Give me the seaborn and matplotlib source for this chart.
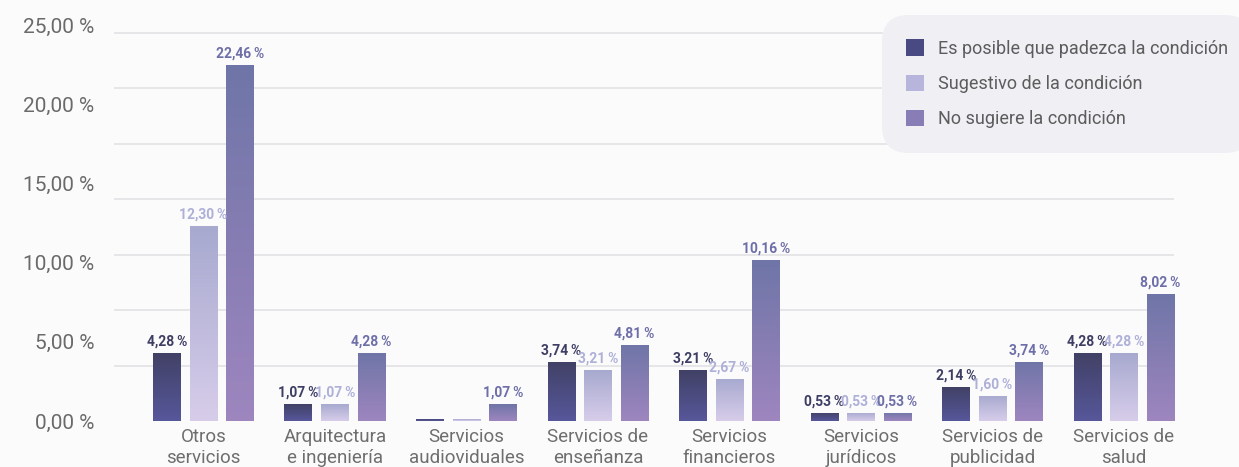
import matplotlib.pyplot as plt
import numpy as np
import pandas as pd
import seaborn as sns
from matplotlib.colors import LinearSegmentedColormap
from matplotlib.patches import Patch

# Datos
categorias = ["Otros\nservicios", "Arquitectura\ne ingeniería", "Servicios\naudioviduales",
              "Servicios de\nenseñanza", "Servicios\nfinancieros", "Servicios\njurídicos",
              "Servicios de\npublicidad", "Servicios de\nsalud"]
series = ["Es posible que padezca la condición", "Sugestivo de la condición", "No sugiere la condición"]
posible = [4.28, 1.07, 0.13, 3.74, 3.21, 0.53, 2.14, 4.28]
sugestivo = [12.30, 1.07, 0.10, 3.21, 2.67, 0.53, 1.60, 4.28]
no_sugiere = [22.46, 4.28, 1.07, 4.81, 10.16, 0.53, 3.74, 8.02]
# barras casi nulas que no llevan rótulo (serie, categoría)
sin_etiqueta = [(0, "Servicios\naudioviduales"), (1, "Servicios\naudioviduales")]

y_ticks = [0, 5, 10, 15, 20, 25]
y_grid = [0, 3.5, 7, 10.5, 14, 17.5, 21, 24.5]

# colores (abajo, arriba) del degradado de cada serie
degradados = [("#57579b", "#414166"), ("#d7cdea", "#a7a9cf"), ("#9e86bf", "#6f75a7")]
color_leyenda = ["#4a4a82", "#b8b5dc", "#897db5"]
color_rotulo = ["#3e3e64", "#aeb0d8", "#6e6fa8"]

df = pd.DataFrame({
    "categoria": categorias * 3,
    "serie": [s for s in series for _ in categorias],
    "valor": posible + sugestivo + no_sugiere,
})

sns.set_style("white")
plt.rcParams["font.family"] = ["Roboto", "DejaVu Sans"]

fig = plt.figure(figsize=(12.39, 4.67), dpi=100, facecolor="#fbfbfc")
ax = fig.add_axes([114 / 1239, 46 / 467, (1174 - 114) / 1239, 406 / 467])
ax.set_facecolor("#fbfbfc")

sns.barplot(data=df, x="categoria", y="valor", hue="serie", order=categorias,
            hue_order=series, palette=color_leyenda, width=0.834, gap=0.24,
            legend=False, ax=ax, zorder=3)

# degradado vertical dentro de cada barra
grad = np.linspace(0, 1, 256).reshape(-1, 1)
for i, cont in enumerate(ax.containers):
    cmap = LinearSegmentedColormap.from_list(f"g{i}", list(degradados[i]))
    for bar in cont:
        x0, y0 = bar.get_x(), bar.get_y()
        w, h = bar.get_width(), bar.get_height()
        im = ax.imshow(grad, cmap=cmap, extent=[x0, x0 + w, y0, y0 + h],
                       origin="lower", aspect="auto", zorder=3)
        im.set_clip_path(bar)
        bar.set_facecolor("none")
        bar.set_edgecolor("none")
    etiquetas = []
    for cat, v in zip(categorias, df[df["serie"] == series[i]]["valor"]):
        etiquetas.append("" if (i, cat) in sin_etiqueta else f"{v:.2f}".replace(".", ",") + "\u2009%")
    ax.bar_label(cont, labels=etiquetas, padding=3, color=color_rotulo[i],
                 fontsize=10, fontweight="bold", zorder=4)

ax.set_xlim(-0.68, 7.38)
ax.set_ylim(0, 25.63)

ax.set_yticks(y_ticks)
ax.set_yticklabels([f"{t:.2f}".replace(".", ",") + " %" for t in y_ticks])
ax.set_yticks(y_grid, minor=True)
ax.grid(False)
ax.grid(True, which="minor", axis="y", color="#e2e2e6", linewidth=1.2, zorder=0)
ax.tick_params(axis="y", which="both", length=0, pad=14, labelsize=15, labelcolor="#6a6a6a")
ax.tick_params(axis="x", length=0, pad=5, labelsize=13.5, labelcolor="#6e6e6e")
for t in ax.get_xticklabels():
    t.set_linespacing(1.2)
ax.set_xlabel("")
ax.set_ylabel("")
sns.despine(ax=ax, left=True, bottom=True)

handles = [Patch(facecolor=c, edgecolor="none") for c in color_leyenda]
leg = ax.legend(handles, series, loc="upper left", bbox_to_anchor=(882 / 1239, 1 - 15 / 467),
                bbox_transform=fig.transFigure, frameon=True, facecolor="#efeff4",
                edgecolor="none", framealpha=1, fontsize=13, labelcolor="#5c5c5c",
                handlelength=0.95, handleheight=1.0, handletextpad=0.8,
                labelspacing=0.95, borderpad=1.35, borderaxespad=0)
leg.get_frame().set_boxstyle("round", pad=0, rounding_size=1.5)
leg.set_zorder(5)

fig.savefig("out.png", dpi=100, facecolor=fig.get_facecolor())
